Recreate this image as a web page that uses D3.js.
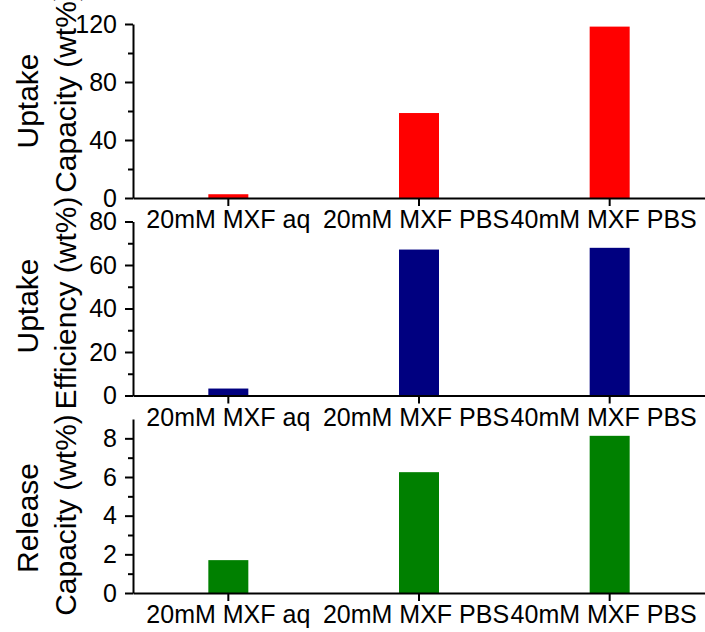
<!DOCTYPE html>
<html>
<head>
    <meta charset="utf-8">
    <title>MXF uptake / release</title>
    <script src="https://d3js.org/d3.v7.min.js"></script>
    <style>
        body { margin: 0; background: #fff; }
        svg { font-family: "Liberation Sans", Arial, sans-serif; }
        .axis path, .axis line { stroke: #000; stroke-width: 2px; }
        .axis text { fill: #000; font-size: 25px; }
        .ylab { font-size: 30px; fill: #000; }
    </style>
</head>
<body>
    <div id="chart"></div>

    <script>
        // data
        const categories = ["20mM MXF aq", "20mM MXF PBS", "40mM MXF PBS"];
        const uptakeCapacity = [2.6, 58.6, 118.2];
        const uptakeEfficiency = [3.2, 67.1, 67.9];
        const releaseCapacity = [1.7, 6.25, 8.13];

        const panelLabels = [["Uptake", "Capacity (wt%)"], ["Uptake", "Efficiency (wt%)"], ["Release", "Capacity (wt%)"]];
        const yMax = [120, 80, 9];
        const majorTicks = [[0, 40, 80, 120], [0, 20, 40, 60, 80], [0, 2, 4, 6, 8]];
        const minorTicks = [[20, 60, 100], [10, 30, 50, 70], [1, 3, 5, 7]];
        const barColors = ["#ff0000", "#000080", "#008000"];

        const width = 705;
        const height = 632;
        const left = 133;
        const panelTop = [24, 221.5, 419];
        const panelH = 174;
        // centre of each label line (line 1, line 2) per panel
        const labelCenter = [[101, 92], [306, 303], [518, 515]];
        // small nudge of category labels, as in the original
        const labelShift = [0, -3, -6];

        const svg = d3.select("#chart")
            .append("svg")
            .attr("width", width)
            .attr("height", height);

        const x = d3.scaleBand()
            .domain(categories)
            .range([left, width])
            .padding(0);

        const barW = 40;
        const series = [uptakeCapacity, uptakeEfficiency, releaseCapacity];

        series.forEach((values, p) => {
            const y = d3.scaleLinear()
                .domain([0, yMax[p]])
                .range([panelTop[p] + panelH, panelTop[p]]);

            const g = svg.append("g");

            // bars
            g.selectAll("rect")
                .data(values)
                .enter().append("rect")
                .attr("x", (d, i) => x(categories[i]) + x.bandwidth() / 2 - barW / 2)
                .attr("width", barW)
                .attr("y", d => y(d))
                .attr("height", d => y(0) - y(d))
                .attr("fill", barColors[p]);

            // minor y ticks
            g.append("g")
                .attr("class", "axis")
                .attr("transform", `translate(${left},0)`)
                .call(d3.axisLeft(y).tickValues(minorTicks[p]).tickSize(5).tickFormat(""))
                .call(s => s.select(".domain").remove());

            // major y ticks
            g.append("g")
                .attr("class", "axis")
                .attr("transform", `translate(${left},0)`)
                .call(d3.axisLeft(y).tickValues(majorTicks[p]).tickSize(8).tickSizeOuter(0).tickPadding(8));

            // x axis
            const xa = g.append("g")
                .attr("class", "axis")
                .attr("transform", `translate(0,${y(0)})`)
                .call(d3.axisBottom(x).tickSize(8).tickSizeOuter(0));
            xa.selectAll("text")
                .attr("y", 30)
                .attr("dy", 0)
                .attr("dx", (d, i) => labelShift[i]);

            // y label, two lines
            panelLabels[p].forEach((txt, k) => {
                svg.append("text")
                    .attr("class", "ylab")
                    .attr("transform", `translate(${k === 0 ? 38 : 76},${labelCenter[p][k]}) rotate(-90)`)
                    .attr("text-anchor", "middle")
                    .text(txt);
            });
        });
    </script>
</body>
</html>
